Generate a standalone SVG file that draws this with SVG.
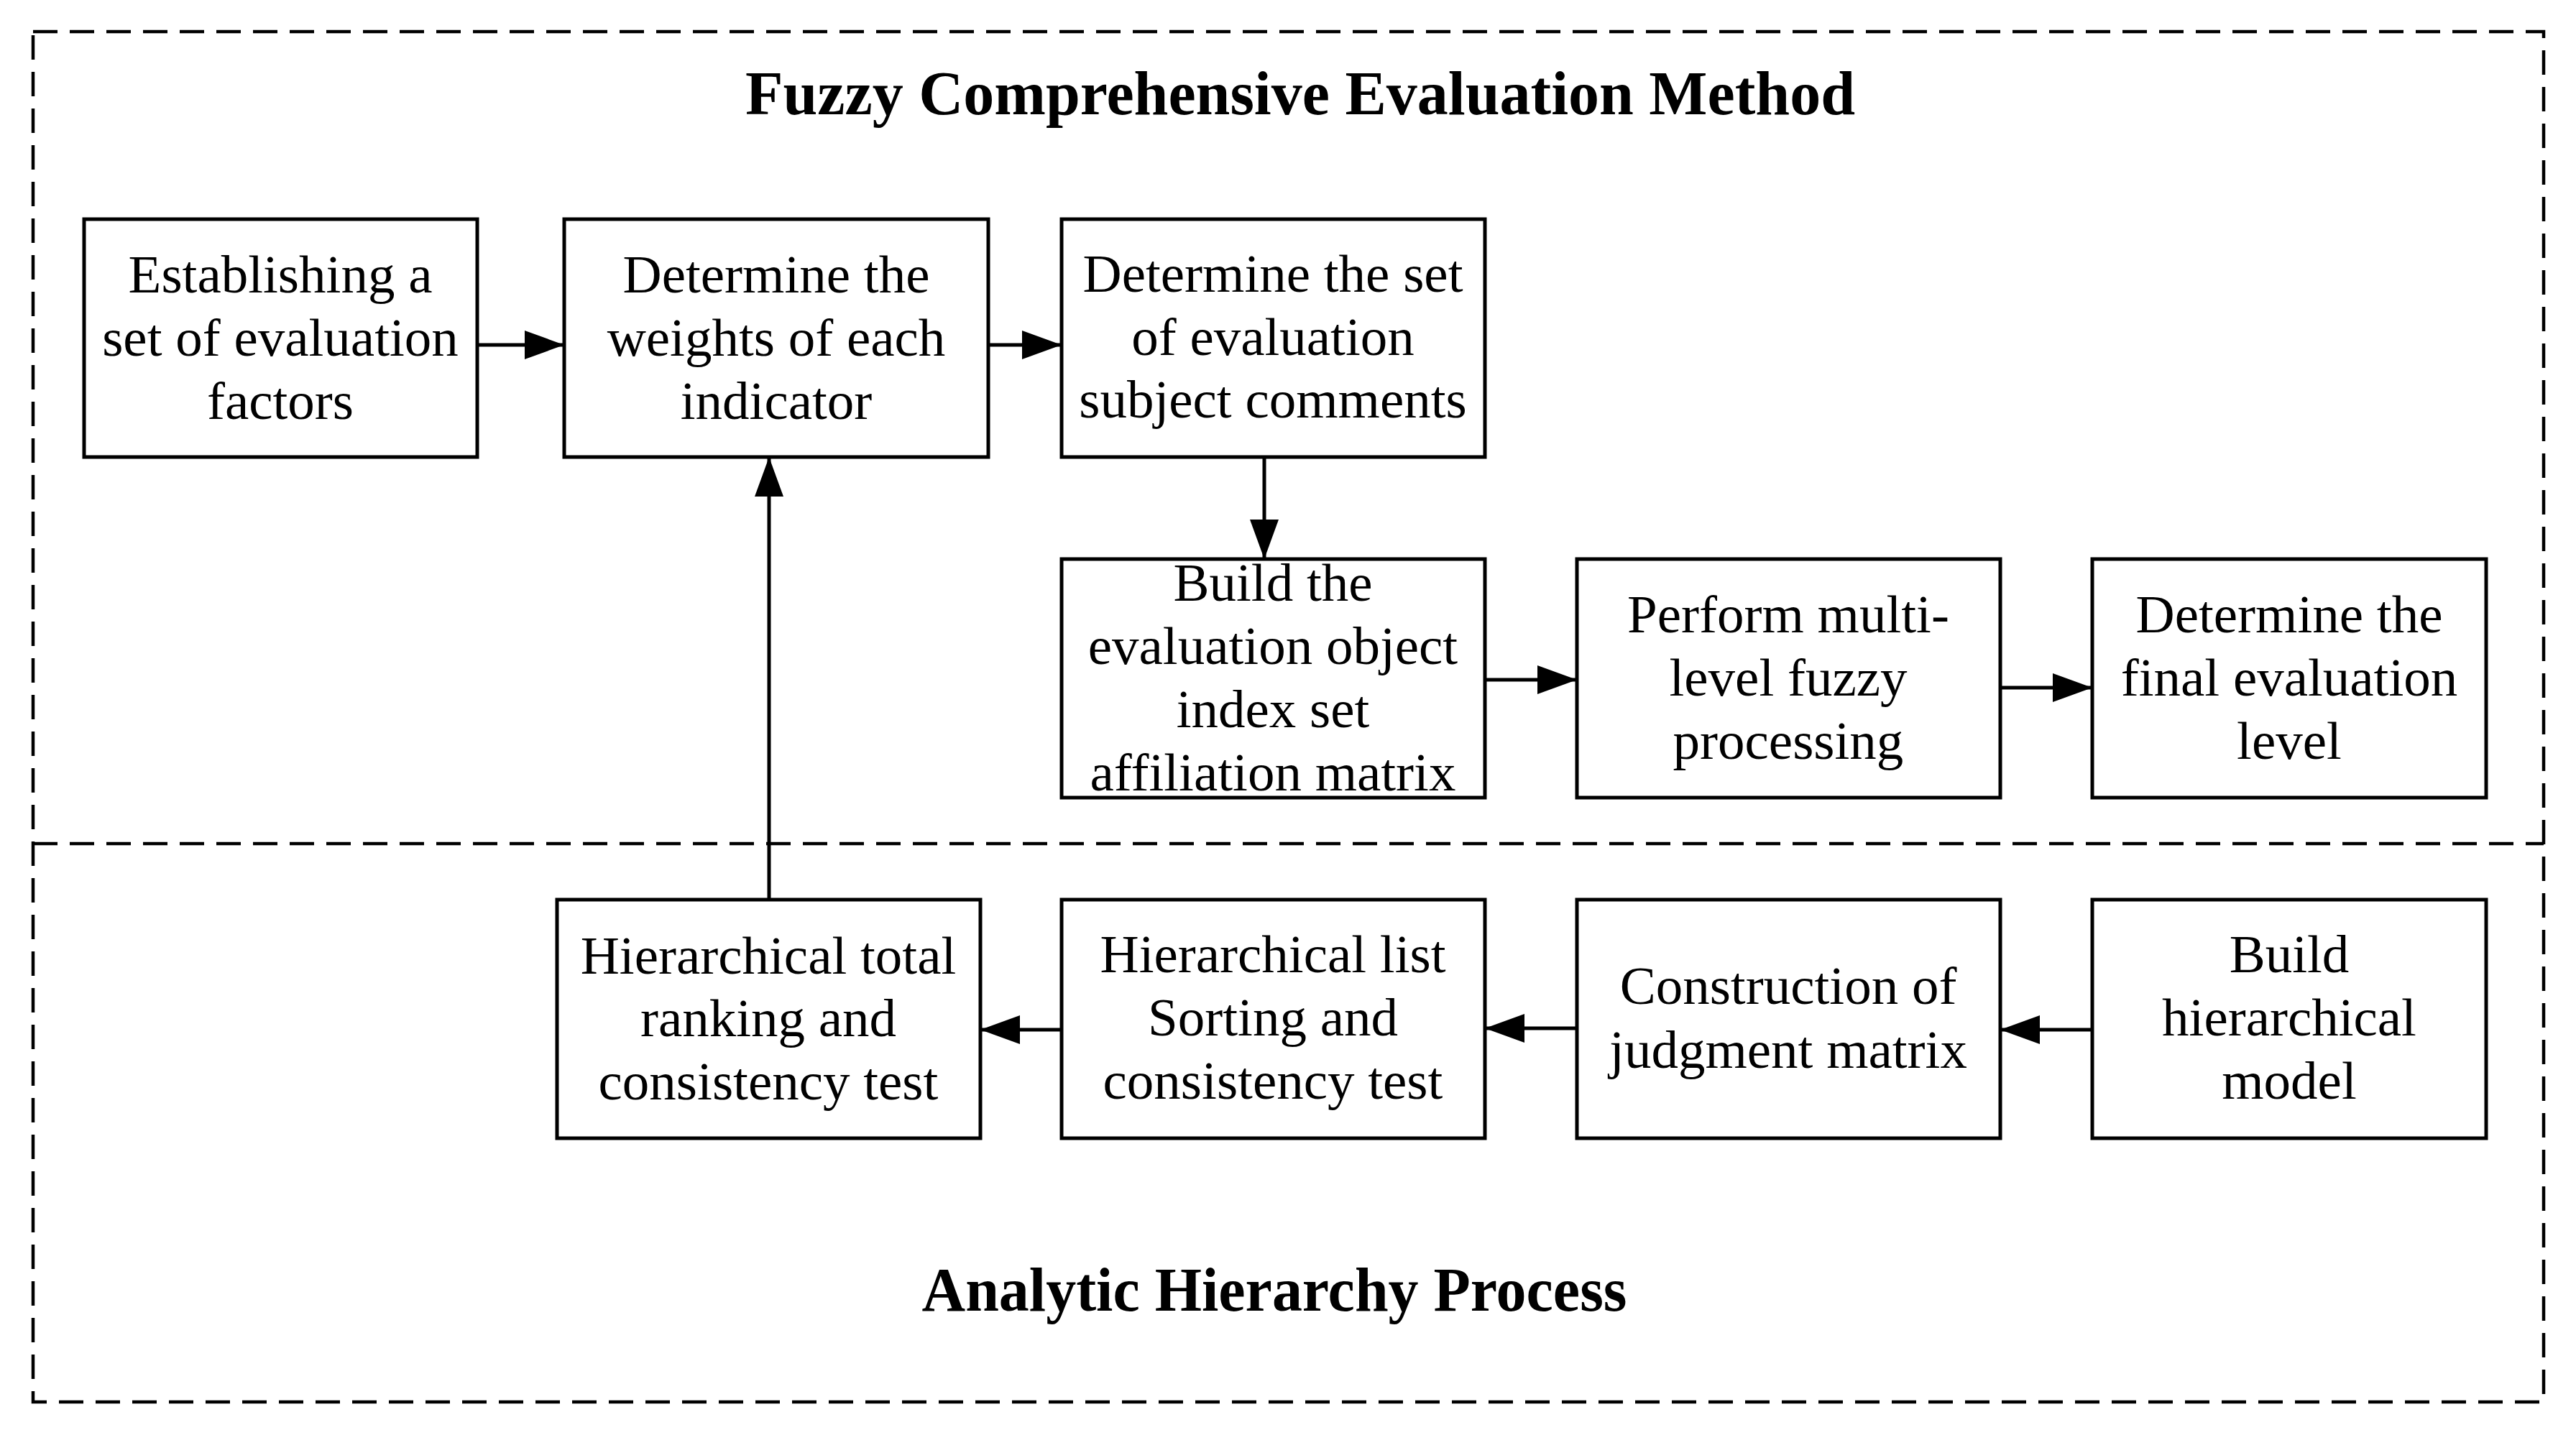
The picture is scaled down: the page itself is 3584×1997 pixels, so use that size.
<svg xmlns="http://www.w3.org/2000/svg" width="3584" height="1997" viewBox="0 0 3584 1997">
<style>
.frame{fill:none;stroke:#000;stroke-width:4.5;stroke-dasharray:34 17}
.box{fill:#fff;stroke:#000;stroke-width:5}
.t{font-family:"Liberation Serif","Times New Roman",serif;font-size:75px;fill:#000;text-anchor:middle}
.title{font-family:"Liberation Serif","Times New Roman",serif;font-size:86px;font-weight:bold;fill:#000;text-anchor:middle}
.conn{fill:none;stroke:#000;stroke-width:5;marker-end:url(#arr)}
</style>
<defs>
<marker id="arr" markerUnits="userSpaceOnUse" markerWidth="56" markerHeight="40" refX="55" refY="20" orient="auto">
<path d="M0,0 L55,20 L0,40 Z" fill="#000"/>
</marker>
</defs>
<rect width="3584" height="1997" fill="#fff"/>
<g id="frames">
<rect class="frame" x="46" y="44" width="3493" height="1907"/>
<line class="frame" x1="46" y1="1174" x2="3539" y2="1174"/>
</g>
<g id="title-fuzzy"><text class="title" x="1809" y="159">Fuzzy Comprehensive Evaluation Method</text></g>
<g id="title-ahp"><text class="title" x="1773" y="1824" textLength="981" lengthAdjust="spacingAndGlyphs">Analytic Hierarchy Process</text></g>
<g id="connectors">
<line class="conn" x1="664" y1="480" x2="785" y2="480"/>
<line class="conn" x1="1375" y1="480" x2="1477" y2="480"/>
<line class="conn" x1="1759" y1="636" x2="1759" y2="778"/>
<line class="conn" x1="2066" y1="946" x2="2194" y2="946"/>
<line class="conn" x1="2783" y1="957" x2="2911" y2="957"/>
<line class="conn" x1="2911" y1="1433" x2="2783" y2="1433"/>
<line class="conn" x1="2194" y1="1431" x2="2066" y2="1431"/>
<line class="conn" x1="1477" y1="1433" x2="1364" y2="1433"/>
<line class="conn" x1="1070" y1="1252" x2="1070" y2="636"/>
</g>
<g id="n1"><rect class="box" x="117" y="305" width="547" height="331"/>
<text class="t" x="390" y="407">Establishing a</text><text class="t" x="390" y="495">set of evaluation</text><text class="t" x="390" y="583">factors</text></g>
<g id="n2"><rect class="box" x="785" y="305" width="590" height="331"/>
<text class="t" x="1080" y="407">Determine the</text><text class="t" x="1080" y="495">weights of each</text><text class="t" x="1080" y="583">indicator</text></g>
<g id="n3"><rect class="box" x="1477" y="305" width="589" height="331"/>
<text class="t" x="1771" y="406">Determine the set</text><text class="t" x="1771" y="494">of evaluation</text><text class="t" x="1771" y="581">subject comments</text></g>
<g id="n4"><rect class="box" x="1477" y="778" width="589" height="332"/>
<text class="t" x="1771" y="836">Build the</text><text class="t" x="1771" y="924">evaluation object</text><text class="t" x="1771" y="1012">index set</text><text class="t" x="1771" y="1100">affiliation matrix</text></g>
<g id="n5"><rect class="box" x="2194" y="778" width="589" height="332"/>
<text class="t" x="2488" y="880">Perform multi-</text><text class="t" x="2488" y="968">level fuzzy</text><text class="t" x="2488" y="1056">processing</text></g>
<g id="n6"><rect class="box" x="2911" y="778" width="548" height="332"/>
<text class="t" x="3185" y="880">Determine the</text><text class="t" x="3185" y="968">final evaluation</text><text class="t" x="3185" y="1056">level</text></g>
<g id="n7"><rect class="box" x="775" y="1252" width="589" height="332"/>
<text class="t" x="1069" y="1355">Hierarchical total</text><text class="t" x="1069" y="1442">ranking and</text><text class="t" x="1069" y="1530">consistency test</text></g>
<g id="n8"><rect class="box" x="1477" y="1252" width="589" height="332"/>
<text class="t" x="1771" y="1353">Hierarchical list</text><text class="t" x="1771" y="1441">Sorting and</text><text class="t" x="1771" y="1529">consistency test</text></g>
<g id="n9"><rect class="box" x="2194" y="1252" width="589" height="332"/>
<text class="t" x="2488" y="1397">Construction of</text><text class="t" x="2488" y="1486">judgment matrix</text></g>
<g id="n10"><rect class="box" x="2911" y="1252" width="548" height="332"/>
<text class="t" x="3185" y="1353">Build</text><text class="t" x="3185" y="1441">hierarchical</text><text class="t" x="3185" y="1529">model</text></g>
</svg>
